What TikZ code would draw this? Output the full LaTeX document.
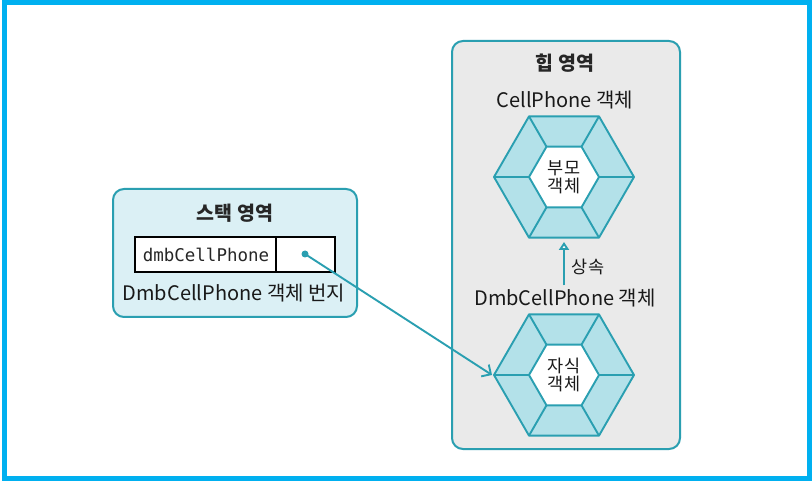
\documentclass[tikz,border=0pt]{standalone}
\usepackage{fontspec}
\setmainfont{Noto Sans CJK KR}
\newfontfamily\monof{DejaVu Sans Mono}
\usetikzlibrary{arrows.meta}
\definecolor{framec}{HTML}{00B0F0}
\definecolor{tealc}{HTML}{2A9FB1}
\definecolor{stackfill}{HTML}{DBF0F5}
\definecolor{heapfill}{HTML}{EAEAEA}
\definecolor{hexfill}{HTML}{B3E1E9}
\tikzset{
  area/.style={draw=tealc, line width=2pt, rounded corners=11pt},
  title/.style={font=\fontsize{19.5}{22}\selectfont\bfseries, text=black!85},
  lbl/.style={font=\fontsize{20}{22}\selectfont, text=black!90},
  hexout/.style={draw=tealc, fill=hexfill, line width=1.9pt, line join=round},
  hexin/.style={draw=tealc, fill=white, line width=1.9pt, line join=round},
  spoke/.style={draw=tealc, line width=1.9pt},
  conn/.style={draw=tealc, line width=1.9pt}
}
\newcommand{\hexagon}[3]{%
  \begin{scope}[shift={(#1)}]
    \draw[hexout] (0:70) -- (60:70) -- (120:70) -- (180:70) -- (240:70) -- (300:70) -- cycle;
    \draw[hexin] (0:35) -- (60:35) -- (120:35) -- (180:35) -- (240:35) -- (300:35) -- cycle;
    \foreach \a in {0,60,...,300} \draw[spoke] (\a:35) -- (\a:70);
  \end{scope}
  \node[lbl, align=center, font=\fontsize{17.5}{20}\selectfont] (#2) at (#1) {#3};
}
\begin{document}
\begin{tikzpicture}[x=1pt,y=-1pt]
\useasboundingbox (0,0) rectangle (812,481);
\fill[white] (0,0) rectangle (812,481);
\draw[framec, line width=5pt] (4.5,2.5) rectangle (809.5,478.5);
% stack area
\draw[area, fill=stackfill] (113,189) rectangle (357,317);
\node[title] (stacktitle) at (235,213) {스택 영역};
\draw[line width=1.5pt, fill=white] (135,237) rectangle (335,272);
\draw[line width=1.5pt] (276,237) -- (276,272);
\node[font=\monof\fontsize{17.5}{20}\selectfont, text=black!85] (var) at (206,254.5) {dmbCellPhone};
\node[circle, fill=tealc, inner sep=0pt, minimum size=7pt] (dot) at (305,254) {};
\node[lbl] (addr) at (234,293) {DmbCellPhone 객체 번지};
% heap area
\draw[area, fill=heapfill] (452,41) rectangle (680,449);
\node[title] (heaptitle) at (565,63) {힙 영역};
\node[lbl] (cptxt) at (565,100) {CellPhone 객체};
\hexagon{564,177}{parent}{부모\\[-2pt]객체}
\node[lbl] (dmbtxt) at (565,298) {DmbCellPhone 객체};
\hexagon{564,375}{child}{자식\\[-2pt]객체}
\coordinate (childw) at (492,375);
\coordinate (inhtop) at (564,242);
\draw[conn, -{Triangle[open, fill=white, length=8pt, width=10pt]}] (dmbtxt.north -| inhtop) -- (inhtop);
\node[lbl, font=\fontsize{17.5}{20}\selectfont] (inh) at (588,267) {상속};
\draw[conn, -{Straight Barb[length=7pt, width=14pt]}] (dot.center) -- (childw);
\end{tikzpicture}
\end{document}
